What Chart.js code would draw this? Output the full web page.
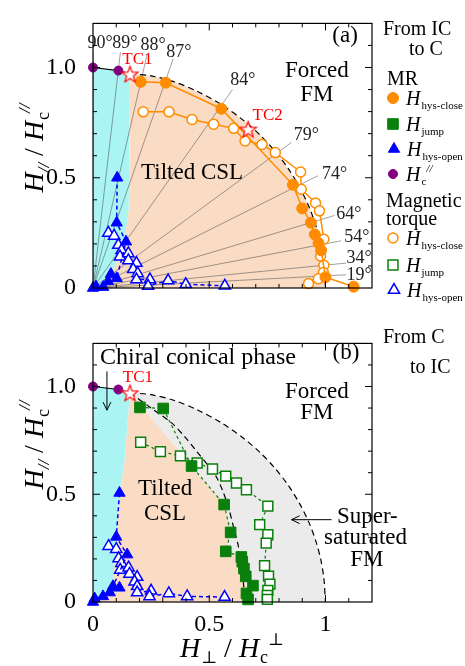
<!DOCTYPE html>
<html>
<head>
<meta charset="utf-8">
<script src="https://cdn.jsdelivr.net/npm/chart.js@4.4.0/dist/chart.umd.min.js"></script>
<style>
  html, body { margin: 0; padding: 0; background: #fff; }
  #wrap { position: relative; width: 465px; height: 666px; }
  #chartA { position: absolute; left: 0; top: 0; }
  #chartB { position: absolute; left: 0; top: 320px; }
</style>
</head>
<body>
<div id="wrap">
  <canvas id="chartA" width="465" height="320"></canvas>
  <canvas id="chartB" width="465" height="346"></canvas>
</div>
<script>
// ---- data (normalised fields H_perp/Hc_perp, H_par/Hc_par) ----
const axisTicks = [0, 0.5, 1.0];
const xTickLabels = ['0', '0.5', '1'];
const yTickLabels = ['0', '0.5', '1.0'];

const hcParallel = [[0, 1.0], [0.109, 0.986]];
const tc1Point = [[0.159, 0.971]];
const tc2Point = [[0.667, 0.721]];

// (a) from IC to C
const mrCloseA = [[0.205, 0.935], [0.313, 0.931], [0.552, 0.813], [0.86, 0.468], [0.90, 0.361], [0.937, 0.296],
  [0.954, 0.243], [0.97, 0.204], [0.981, 0.171], [1.0, 0.049], [1.121, 0.006]];
const tqCloseA = [[0.216, 0.799], [0.327, 0.799], [0.426, 0.764], [0.519, 0.743], [0.605, 0.724], [0.654, 0.667],
  [0.727, 0.651], [0.784, 0.614], [0.893, 0.526], [0.896, 0.448], [0.957, 0.386], [0.974, 0.35], [0.993, 0.221],
  [0.979, 0.145], [0.993, 0.103], [0.991, 0.07], [0.969, 0.042], [0.927, 0.02]];
const mrOpenA = [[0, 0], [0.013, 0.006], [0.044, 0.004], [0.065, 0.03], [0.077, 0.063], [0.102, 0.044],
  [0.142, 0.21], [0.102, 0.296], [0.104, 0.5]];
const tqOpenA = [[0.066, 0.25], [0.091, 0.236], [0.109, 0.195], [0.123, 0.171], [0.116, 0.142], [0.152, 0.157],
  [0.152, 0.125], [0.187, 0.113], [0.173, 0.085], [0.192, 0.066], [0.187, 0.038], [0.245, 0.038], [0.237, 0.009],
  [0.323, 0.034], [0.399, 0.017], [0.567, 0.01]];

// (b) from C to IC
const mrJumpB = [[0.202, 0.903], [0.302, 0.898], [0.424, 0.631], [0.564, 0.452], [0.592, 0.323], [0.571, 0.235],
  [0.638, 0.209], [0.642, 0.187], [0.649, 0.155], [0.657, 0.119], [0.688, 0.076], [0.66, 0.04], [0.667, 0.012]];
const tqJumpB = [[0.205, 0.741], [0.29, 0.698], [0.376, 0.678], [0.448, 0.645], [0.514, 0.617], [0.571, 0.584],
  [0.617, 0.552], [0.66, 0.521], [0.752, 0.445], [0.717, 0.359], [0.752, 0.312], [0.745, 0.273], [0.738, 0.169],
  [0.755, 0.12], [0.761, 0.083], [0.752, 0.054], [0.75, 0.03], [0.75, 0.012]];
const mrOpenB = [[0, 0], [0.007, 0.016], [0.043, 0.026], [0.072, 0.044], [0.114, 0.066], [0.086, 0.073],
  [0.147, 0.22], [0.10, 0.302], [0.114, 0.506]];
const tqOpenB = [[0.067, 0.259], [0.10, 0.245], [0.11, 0.202], [0.122, 0.18], [0.117, 0.149], [0.153, 0.159],
  [0.157, 0.13], [0.19, 0.116], [0.179, 0.094], [0.19, 0.073], [0.19, 0.044], [0.25, 0.052], [0.243, 0.026],
  [0.326, 0.04], [0.405, 0.026], [0.566, 0.023]];

// phase boundaries
const outerBoundary = [[0.159, 0.971], [0.25, 0.962], [0.35, 0.935], [0.45, 0.891], [0.55, 0.833], [0.65, 0.758],
  [0.72, 0.692], [0.78, 0.624], [0.84, 0.541], [0.89, 0.454], [0.93, 0.366], [0.96, 0.278], [0.98, 0.195],
  [0.993, 0.11], [1.0, 0]];
const innerBoundaryB = [[0.159, 0.971], [0.25, 0.9], [0.338, 0.831], [0.40, 0.76], [0.445, 0.70], [0.49, 0.64],
  [0.531, 0.58], [0.56, 0.51], [0.585, 0.43], [0.605, 0.345], [0.625, 0.26], [0.638, 0.17], [0.647, 0.09], [0.652, 0]];
const conicalEdgeA = [[0.159, 0.971], [0.157, 0.6], [0.153, 0.35], [0.13, 0.18], [0.08, 0.07], [0.03, 0.015], [0, 0]];
const conicalEdgeB = [[0.159, 0.971], [0.135, 0.65], [0.114, 0.506], [0.10, 0.302], [0.086, 0.073], [0.04, 0.02], [0, 0]];
const cslEdgeB = [[0.159, 0.971], [0.424, 0.631], [0.564, 0.452], [0.592, 0.323], [0.571, 0.235], [0.638, 0.209],
  [0.649, 0.155], [0.66, 0.04], [0.667, 0]];

// field angle guide lines in (a)
const fieldAngles = ['90°', '89°', '88°', '87°', '84°', '79°', '74°', '64°', '54°', '34°', '19°'];
const angleLineEnds = [[0, 1.07], [0.118, 1.07], [0.233, 1.06], [0.345, 1.04], [0.6, 0.9], [0.853, 0.66],
  [0.967, 0.509], [1.039, 0.329], [1.067, 0.214], [1.089, 0.113], [1.089, 0.06]];

// ---- look ----
const ORANGE = '#ff8c00', GREEN = '#0b7f0b', BLUE = '#0000ff', PURPLE = '#800080', RED = '#ff0000';
const CYAN = '#aaf4f4', PEACH = '#fadcc4', GREY = '#ebebeb';
const SERIF = '"Liberation Serif", "DejaVu Serif", serif';
const font = (size, italic) => (italic ? 'italic ' : '') + size + 'px ' + SERIF;

// label anchors in data units for the angle labels
const angleLabelAt = [[0.03, 1.112], [0.137, 1.112], [0.258, 1.099], [0.369, 1.069], [0.644, 0.94], [0.918, 0.694],
  [1.039, 0.517], [1.10, 0.336], [1.135, 0.228], [1.144, 0.134], [1.144, 0.056]];

function makeStar(size) {
  const c = document.createElement('canvas');
  c.width = c.height = size;
  const g = c.getContext('2d');
  const r = size / 2 - 1, ri = r * 0.42;
  g.beginPath();
  for (let i = 0; i < 10; i++) {
    const rr = i % 2 ? ri : r;
    const a = -Math.PI / 2 + i * Math.PI / 5;
    g.lineTo(size / 2 + rr * Math.cos(a), size / 2 + 1 + rr * Math.sin(a));
  }
  g.closePath();
  g.fillStyle = '#fff';
  g.fill();
  g.strokeStyle = RED;
  g.lineWidth = 1.2;
  g.stroke();
  return c;
}
const starImg = makeStar(19);

const styles = {
  mrClose: { pointStyle: 'circle', radius: 5.5, fill: ORANGE, stroke: ORANGE, bw: 1 },
  tqClose: { pointStyle: 'circle', radius: 5, fill: '#fff', stroke: ORANGE, bw: 1.5 },
  mrJump: { pointStyle: 'rect', radius: 7.5, fill: GREEN, stroke: GREEN, bw: 1 },
  tqJump: { pointStyle: 'rect', radius: 7, fill: '#fff', stroke: GREEN, bw: 1.5 },
  mrOpen: { pointStyle: 'triangle', radius: 6.5, fill: BLUE, stroke: BLUE, bw: 1 },
  tqOpen: { pointStyle: 'triangle', radius: 6.5, fill: '#fff', stroke: BLUE, bw: 1.5 },
  hc: { pointStyle: 'circle', radius: 4.5, fill: PURPLE, stroke: PURPLE, bw: 1 },
  star: { pointStyle: starImg, radius: 9, fill: '#fff', stroke: RED, bw: 1 }
};

const pts = a => a.map(([x, y]) => ({ x, y }));

function series(data, st, line, order = 0) {
  return {
    data: pts(data), order, clip: false, tension: 0, fill: false,
    showLine: !!line,
    borderColor: line ? line.color : st.stroke,
    borderWidth: line ? line.width : 0,
    borderDash: line && line.dash ? line.dash : [],
    pointStyle: st.pointStyle, pointRadius: st.radius, pointHoverRadius: st.radius,
    pointBackgroundColor: st.fill, pointBorderColor: st.stroke, pointBorderWidth: st.bw
  };
}
function curve(data, color, width, dash, tension, order = 10) {
  return { data: pts(data), order, borderColor: color, borderWidth: width, borderDash: dash || [],
    pointRadius: 0, pointHoverRadius: 0, tension: tension || 0, fill: false };
}
function region(data, color) {
  return { data: pts(data), order: 30, borderWidth: 0, borderColor: 'rgba(0,0,0,0)', backgroundColor: color,
    pointRadius: 0, pointHoverRadius: 0, fill: 'shape', tension: 0 };
}

// ---- text helpers ----
function drawRuns(ctx, runs, x, y, align) {
  let w = 0;
  for (const r of runs) { ctx.font = font(r.size, r.italic); w += ctx.measureText(r.t).width + (r.gap || 0); }
  let cx = align === 'center' ? x - w / 2 : align === 'right' ? x - w : x;
  ctx.textAlign = 'left';
  for (const r of runs) {
    ctx.font = font(r.size, r.italic);
    ctx.fillText(r.t, cx, y + (r.dy || 0));
    cx += ctx.measureText(r.t).width + (r.gap || 0);
  }
}
function label(chart, text, x, y, size, opts = {}) {
  const { ctx, scales } = chart;
  ctx.save();
  ctx.fillStyle = opts.color || '#000';
  ctx.font = font(size, opts.italic);
  ctx.textAlign = opts.align || 'center';
  ctx.textBaseline = 'middle';
  ctx.fillText(text, scales.x.getPixelForValue(x), scales.y.getPixelForValue(y));
  ctx.restore();
}
function arrow(chart, from, to) {
  const { ctx, scales: { x, y } } = chart;
  const x0 = x.getPixelForValue(from[0]), y0 = y.getPixelForValue(from[1]);
  const x1 = x.getPixelForValue(to[0]), y1 = y.getPixelForValue(to[1]);
  const a = Math.atan2(y1 - y0, x1 - x0), h = 9;
  ctx.save();
  ctx.strokeStyle = '#000';
  ctx.lineWidth = 1;
  ctx.beginPath();
  ctx.moveTo(x0, y0); ctx.lineTo(x1, y1);
  ctx.moveTo(x1 - h * Math.cos(a - 0.45), y1 - h * Math.sin(a - 0.45));
  ctx.lineTo(x1, y1);
  ctx.lineTo(x1 - h * Math.cos(a + 0.45), y1 - h * Math.sin(a + 0.45));
  ctx.stroke();
  ctx.restore();
}
function drawFrame(chart) {
  const { ctx, chartArea: a, scales: { x, y } } = chart;
  ctx.save();
  ctx.strokeStyle = '#000';
  ctx.lineWidth = 1.2;
  ctx.strokeRect(a.left, a.top, a.right - a.left, a.bottom - a.top);
  ctx.lineWidth = 1;
  ctx.beginPath();
  for (let i = 1; i <= 11; i++) {
    const v = i / 10, len = i % 5 === 0 ? 7 : 4;
    const px = x.getPixelForValue(v), py = y.getPixelForValue(v);
    ctx.moveTo(px, a.bottom); ctx.lineTo(px, a.bottom - len);
    ctx.moveTo(px, a.top); ctx.lineTo(px, a.top + len);
    ctx.moveTo(a.left, py); ctx.lineTo(a.left + len, py);
    ctx.moveTo(a.right, py); ctx.lineTo(a.right - len, py);
  }
  ctx.stroke();
  ctx.restore();
}
function yTitle(ctx, cx, cy) {
  ctx.save();
  ctx.fillStyle = '#000';
  ctx.textBaseline = 'alphabetic';
  ctx.translate(cx, cy);
  ctx.rotate(-Math.PI / 2);
  drawRuns(ctx, [
    { t: 'H', size: 28, italic: true },
    { t: '//', size: 17, italic: true, dy: 6 },
    { t: ' / ', size: 28 },
    { t: 'H', size: 28, italic: true, gap: 1 },
    { t: 'c', size: 18, dy: 6, gap: -1 },
    { t: '//', size: 17, italic: true, dy: -13 }
  ], 0, 0, 'center');
  ctx.restore();
}
function legendItem(ctx, st, x, y, sub, sup) {
  ctx.save();
  ctx.fillStyle = st.fill;
  ctx.strokeStyle = st.stroke;
  ctx.lineWidth = st.bw;
  Chart.helpers.drawPoint(ctx, { pointStyle: st.pointStyle, radius: st.radius, rotation: 0, borderWidth: st.bw }, x, y);
  ctx.fillStyle = '#000';
  ctx.textBaseline = 'alphabetic';
  const runs = [{ t: 'H', size: 20, italic: true, gap: 1 }, { t: sub, size: 11, dy: 4 }];
  if (sup) runs.push({ t: sup, size: 11, italic: true, dy: -9 });
  drawRuns(ctx, runs, x + 13, y + 7, 'left');
  ctx.restore();
}
function plainText(ctx, text, x, y, size) {
  ctx.save();
  ctx.fillStyle = '#000';
  ctx.font = font(size);
  ctx.textAlign = 'left';
  ctx.textBaseline = 'alphabetic';
  ctx.fillText(text, x, y);
  ctx.restore();
}

// ---- chart builder ----
function options(showX, padding) {
  const tickFont = { family: SERIF, size: 24 };
  return {
    responsive: false,
    animation: false,
    events: [],
    layout: { padding },
    plugins: { legend: { display: false }, tooltip: { enabled: false } },
    scales: {
      x: {
        type: 'linear', min: 0, max: 1.2,
        grid: { display: false }, border: { display: false },
        afterBuildTicks: s => { s.ticks = axisTicks.map(v => ({ value: v })); },
        afterFit: s => { s.height = showX ? 30 : 0; },
        ticks: { display: showX, callback: (v, i) => xTickLabels[i], font: tickFont, color: '#000', padding: 0, maxRotation: 0 }
      },
      y: {
        type: 'linear', min: 0, max: 1.2,
        grid: { display: false }, border: { display: false },
        afterBuildTicks: s => { s.ticks = axisTicks.map(v => ({ value: v })); },
        afterFit: s => { s.width = 93; },
        ticks: { callback: (v, i) => yTickLabels[i], font: tickFont, color: '#000', padding: 9 }
      }
    }
  };
}

// ---- panel (a) ----
const datasetsA = [
  series(tc1Point, styles.star, null, -2),
  series(tc2Point, styles.star, null, -2),
  series(hcParallel, styles.hc, null, -1),
  series(mrCloseA, styles.mrClose, { color: ORANGE, width: 1.5 }),
  series(tqCloseA, styles.tqClose, { color: ORANGE, width: 1.5 }),
  series(mrOpenA, styles.mrOpen, { color: BLUE, width: 1.5, dash: [4, 3] }),
  series(tqOpenA, styles.tqOpen, { color: BLUE, width: 1.5, dash: [4, 3] }),
  curve(hcParallel.concat(tc1Point), '#000', 1.2, null, 0, 5),
  curve(outerBoundary, '#000', 1.2, [6, 4], 0.3, 5),
  ...angleLineEnds.map(e => curve([[0, 0], e], 'rgba(70,70,70,0.85)', 0.6, null, 0, 20)),
  region(hcParallel.concat(conicalEdgeA), CYAN),
  region([[0, 0]].concat(conicalEdgeA.slice().reverse(), outerBoundary), PEACH)
];

const decorA = {
  id: 'decorA',
  afterDatasetsDraw(chart) {
    const ctx = chart.ctx;
    fieldAngles.forEach((t, i) => label(chart, t, angleLabelAt[i][0], angleLabelAt[i][1], 18, { color: '#222' }));
    label(chart, 'Tilted CSL', 0.426, 0.522, 23);
    label(chart, 'Forced', 0.963, 0.983, 23);
    label(chart, 'FM', 0.963, 0.875, 23);
    label(chart, '(a)', 1.084, 1.142, 23);
    label(chart, 'TC1', 0.191, 1.034, 17, { color: RED });
    label(chart, 'TC2', 0.751, 0.78, 17, { color: RED });
    drawFrame(chart);
    yTitle(ctx, 43, 148);
    // legend
    plainText(ctx, 'From IC', 383, 35, 20);
    plainText(ctx, 'to C', 409, 55, 20);
    plainText(ctx, 'MR', 387, 85, 20);
    legendItem(ctx, styles.mrClose, 393, 98, 'hys-close');
    legendItem(ctx, styles.mrJump, 393, 124, 'jump');
    legendItem(ctx, styles.mrOpen, 394, 149, 'hys-open');
    legendItem(ctx, styles.hc, 393, 174, 'c', '//');
    plainText(ctx, 'Magnetic', 386, 207, 20);
    plainText(ctx, 'torque', 386, 225, 20);
    legendItem(ctx, styles.tqClose, 393, 238, 'hys-close');
    legendItem(ctx, styles.tqJump, 393, 265, 'jump');
    legendItem(ctx, styles.tqOpen, 394, 290, 'hys-open');
  }
};

new Chart(document.getElementById('chartA'), {
  type: 'line',
  data: { datasets: datasetsA },
  options: options(false, { top: 9, right: 93, bottom: 32, left: 0 }),
  plugins: [decorA]
});

// ---- panel (b) ----
const datasetsB = [
  series(tc1Point, styles.star, null, -2),
  series(hcParallel, styles.hc, null, -1),
  series(mrJumpB, styles.mrJump, { color: GREEN, width: 1.2, dash: [3, 3] }),
  series(tqJumpB, styles.tqJump, { color: GREEN, width: 1.2, dash: [3, 3] }),
  series(mrOpenB, styles.mrOpen, { color: BLUE, width: 1.5, dash: [4, 3] }),
  series(tqOpenB, styles.tqOpen, { color: BLUE, width: 1.5, dash: [4, 3] }),
  curve(hcParallel.concat(tc1Point), '#000', 1.2, null, 0, 5),
  curve(outerBoundary, '#000', 1.2, [6, 4], 0.3, 5),
  curve(innerBoundaryB, '#000', 1.2, [6, 4], 0.3, 5),
  region(hcParallel.concat(conicalEdgeB), CYAN),
  region([[0, 0]].concat(conicalEdgeB.slice().reverse(), cslEdgeB), PEACH),
  region(outerBoundary.concat(cslEdgeB.slice().reverse()), GREY)
];

const decorB = {
  id: 'decorB',
  afterDatasetsDraw(chart) {
    const ctx = chart.ctx;
    label(chart, 'Chiral conical phase', 0.03, 1.133, 24, { align: 'left' });
    arrow(chart, [0.06, 1.07], [0.06, 0.89]);
    label(chart, 'TC1', 0.193, 1.04, 17, { color: RED });
    label(chart, 'Forced', 0.963, 0.974, 23);
    label(chart, 'FM', 0.963, 0.876, 23);
    label(chart, '(b)', 1.088, 1.155, 23);
    label(chart, 'Tilted', 0.31, 0.524, 23);
    label(chart, 'CSL', 0.31, 0.408, 23);
    label(chart, 'Super-', 1.18, 0.395, 23);
    label(chart, 'saturated', 1.172, 0.296, 23);
    label(chart, 'FM', 1.178, 0.193, 23);
    arrow(chart, [1.026, 0.382], [0.854, 0.382]);
    drawFrame(chart);
    yTitle(ctx, 43, 125);
    ctx.save();
    ctx.fillStyle = '#000';
    ctx.textBaseline = 'alphabetic';
    drawRuns(ctx, [
      { t: 'H', size: 28, italic: true, gap: 1 },
      { t: '⊥', size: 17, dy: 6 },
      { t: ' / ', size: 28 },
      { t: 'H', size: 28, italic: true, gap: 1 },
      { t: 'c', size: 18, dy: 6 },
      { t: '⊥', size: 17, dy: -12 }
    ], 232, 337, 'center');
    ctx.restore();
    plainText(ctx, 'From C', 383, 23, 20);
    plainText(ctx, 'to IC', 410, 53, 20);
  }
};

new Chart(document.getElementById('chartB'), {
  type: 'line',
  data: { datasets: datasetsB },
  options: options(true, { top: 3, right: 93, bottom: 34, left: 0 }),
  plugins: [decorB]
});
</script>
</body>
</html>
